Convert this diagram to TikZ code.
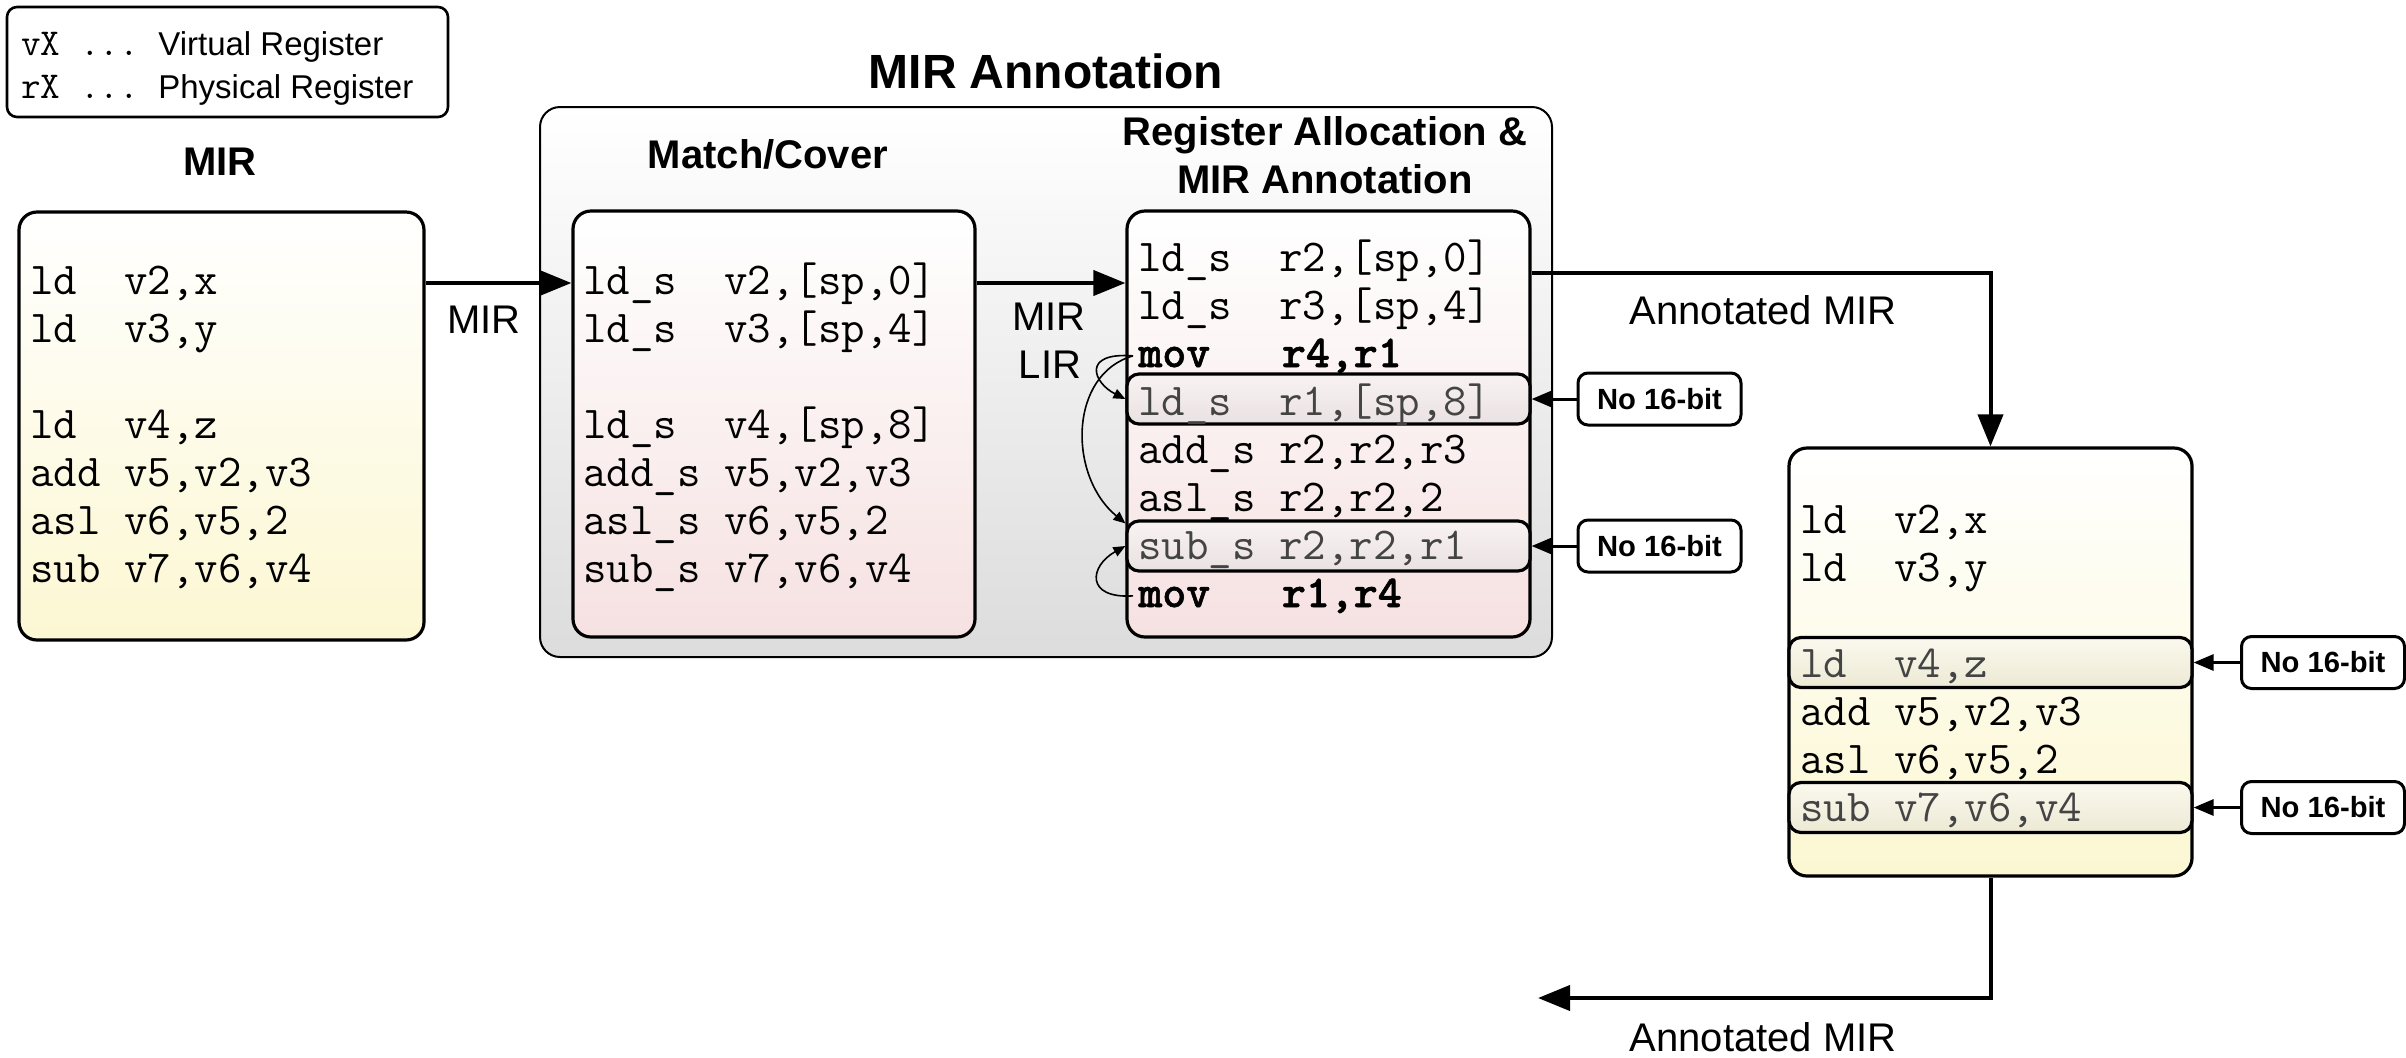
\documentclass[tikz,border=0pt]{standalone}
\usepackage{fontspec}
\setsansfont{Liberation Sans}
\newfontfamily\boldmono{lmmonolt10-bold.otf}[FakeBold=1.2]
\usetikzlibrary{arrows.meta,calc}

\definecolor{mirtop}{HTML}{FFFFFF}
\definecolor{mirbot}{HTML}{FCF7D2}
\definecolor{lirbot}{HTML}{F6E1E1}
\definecolor{grpbot}{HTML}{DCDCDC}
\definecolor{hlpinktop}{HTML}{F9F2F2}
\definecolor{hlpinkbot}{HTML}{EAE2E2}
\definecolor{hlyeltop}{HTML}{FBF9EE}
\definecolor{hlyelbot}{HTML}{ECE9D4}
\definecolor{dimtext}{HTML}{444444}

\newcommand\codefont{\ttfamily\fontsize{22.8}{27}\selectfont}
\newcommand\codebold{\boldmono\fontsize{22.8}{27}\selectfont}
\newcommand\legfont{\fontsize{16.5}{20}\selectfont}
\newcommand\legmono{\ttfamily\fontsize{19}{22}\selectfont}

\begin{document}
\begin{tikzpicture}[x=0.5pt,y=-0.5pt,
  codebox/.style={draw, line width=1.6pt, rounded corners=9pt, inner sep=0pt,
    minimum width=#1},
  mirfill/.style={top color=mirtop, bottom color=mirbot},
  lirfill/.style={top color=white, bottom color=lirbot},
  hlbox/.style={draw, line width=1.6pt, rounded corners=6pt, inner sep=0pt,
    minimum width=201.5pt, minimum height=25pt},
  note/.style={draw, line width=1.5pt, rounded corners=5pt, fill=white, inner sep=0pt,
    minimum width=81.5pt, minimum height=26pt,
    font=\sffamily\bfseries\fontsize{14.6}{17}\selectfont},
  code/.style={anchor=base west, inner sep=0pt, font=\codefont},
  boldcode/.style={anchor=base west, inner sep=0pt, font=\codebold},
  dim/.style={text=dimtext},
  heading/.style={anchor=base, inner sep=0pt, font=\sffamily\bfseries\fontsize{20}{24}\selectfont},
  lbl/.style={anchor=base, inner sep=0pt, font=\sffamily\fontsize{20}{24}\selectfont},
  bigarrow/.style={line width=2pt, -{Triangle[length=16pt,width=12.5pt]}},
  notearrow/.style={line width=1.5pt, -{Triangle[length=10pt,width=8pt]}},
  bendarrow/.style={line width=0.8pt, -{Triangle[length=6pt,width=5pt]}}
]
\useasboundingbox (0,0) rectangle (2406,1057);

% legend
\node[draw, line width=1.3pt, rounded corners=5pt, minimum width=220.5pt, minimum height=55pt]
  (legend) at (227.5,62) {};
\node[anchor=base west, inner sep=0pt, font=\sffamily\legfont] (leg1) at (21,55)
  {{\legmono vX~...~}Virtual Register};
\node[anchor=base west, inner sep=0pt, font=\sffamily\legfont] (leg2) at (21,98)
  {{\legmono rX~...~}Physical Register};

% MIR input
\node[heading] (mirtitle) at (220,175) {MIR};
\node[codebox=202.5pt, minimum height=214pt, mirfill] (mir) at (221.5,426) {};
\node[code] (m1) at (30,294) {ld~~v2,x};
\node[code] (m2) at (30,342) {ld~~v3,y};
\node[code] (m4) at (30,438) {ld~~v4,z};
\node[code] (m5) at (30,486) {add v5,v2,v3};
\node[code] (m6) at (30,534) {asl v6,v5,2};
\node[code] (m7) at (30,582) {sub v7,v6,v4};

% MIR annotation group
\node[anchor=base, inner sep=0pt, font=\sffamily\bfseries\fontsize{24}{28}\selectfont]
  (grptitle) at (1046,88) {MIR Annotation};
\node[draw, line width=1pt, rounded corners=10pt, top color=white, bottom color=grpbot,
  minimum width=506pt, minimum height=275pt] (grp) at (1046,382) {};

% match / cover
\node[heading] (mctitle) at (768,168) {Match/Cover};
\node[codebox=201pt, minimum height=213pt, lirfill] (mc) at (774,424) {};
\node[code] (c1) at (583,294) {ld\_s~~v2,[sp,0]};
\node[code] (c2) at (583,342) {ld\_s~~v3,[sp,4]};
\node[code] (c4) at (583,438) {ld\_s~~v4,[sp,8]};
\node[code] (c5) at (583,486) {add\_s v5,v2,v3};
\node[code] (c6) at (583,534) {asl\_s v6,v5,2};
\node[code] (c7) at (583,582) {sub\_s v7,v6,v4};

% register allocation
\node[heading] (ratitle1) at (1325,145) {Register Allocation \&};
\node[heading] (ratitle2) at (1325,193) {MIR Annotation};
\node[codebox=201.5pt, minimum height=213pt, lirfill] (ra) at (1328.5,424) {};
\node[hlbox, top color=hlpinktop, bottom color=hlpinkbot] (hl1) at (1328.5,399) {};
\node[hlbox, top color=hlpinktop, bottom color=hlpinkbot] (hl2) at (1328.5,546) {};
\node[code] (r1) at (1138,271) {ld\_s~~r2,[sp,0]};
\node[code] (r2) at (1138,319) {ld\_s~~r3,[sp,4]};
\node[boldcode] (r3) at (1138,367) {mov~~~r4,r1};
\node[code, dim] (r4) at (1138,415) {ld\_s~~r1,[sp,8]};
\node[code] (r5) at (1138,463) {add\_s r2,r2,r3};
\node[code] (r6) at (1138,511) {asl\_s r2,r2,2};
\node[code, dim] (r7) at (1138,559) {sub\_s r2,r2,r1};
\node[boldcode] (r8) at (1138,607) {mov~~~r1,r4};

\node[note] (nb1) at (1659.5,399) {No 16-bit};
\node[note] (nb2) at (1659.5,546) {No 16-bit};

% annotated MIR
\node[codebox=201.5pt, minimum height=214pt, mirfill] (ann) at (1990.5,662) {};
\node[hlbox, top color=hlyeltop, bottom color=hlyelbot] (ah1) at (1990.5,662.5) {};
\node[hlbox, top color=hlyeltop, bottom color=hlyelbot] (ah2) at (1990.5,807.5) {};
\node[code] (a1) at (1800,533) {ld~~v2,x};
\node[code] (a2) at (1800,581) {ld~~v3,y};
\node[code, dim] (a4) at (1800,677) {ld~~v4,z};
\node[code] (a5) at (1800,725) {add v5,v2,v3};
\node[code] (a6) at (1800,773) {asl v6,v5,2};
\node[code, dim] (a7) at (1800,821) {sub v7,v6,v4};

\node[note] (nb3) at (2323,662.5) {No 16-bit};
\node[note] (nb4) at (2323,807.5) {No 16-bit};

% connectors
\coordinate (row1) at (0,283);
\coordinate (turn1) at (1990.5,273);
\coordinate (outend) at (1538,998);

\draw[bigarrow] (mir.east |- row1) -- (mc.west |- row1);
\node[lbl] (lmir) at (484,333) {MIR};
\draw[bigarrow] (mc.east |- row1) -- (ra.west |- row1);
\node[lbl] (lmir2) at (1049,330) {MIR};
\node[lbl] (llir) at (1050,378) {LIR};

\draw[bigarrow, line join=miter] (ra.east |- turn1) -- (turn1) -- (ann.north);
\node[lbl] (lann1) at (1763,324) {Annotated MIR};
\draw[bigarrow, line join=miter] (ann.south) -- (ann.south |- outend) -- (outend);
\node[lbl] (lann2) at (1763,1051) {Annotated MIR};

\draw[notearrow] (nb1.west) -- (hl1.east);
\draw[notearrow] (nb2.west) -- (hl2.east);
\draw[notearrow] (nb3.west) -- (ah1.east);
\draw[notearrow] (nb4.west) -- (ah2.east);

% spill / reload bends
\draw[bendarrow] ([xshift=-2.5pt]r3.west) .. controls +(-52,-4) and +(-32,-16) .. (hl1.west);
\draw[bendarrow] ([xshift=-2.5pt]r3.west) .. controls +(-64,18) and +(-58,-48) .. ([yshift=-2pt]hl2.north west);
\draw[bendarrow] ([xshift=-2.5pt]r8.west) .. controls +(-48,3) and +(-36,20) .. (hl2.west);
\end{tikzpicture}
\end{document}
